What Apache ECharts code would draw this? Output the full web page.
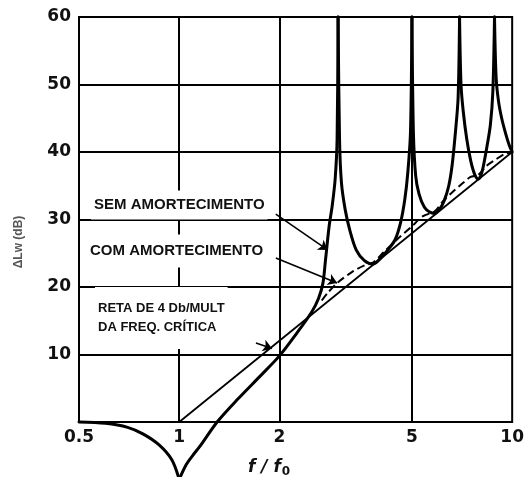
<!DOCTYPE html>
<html>
<head>
<meta charset="utf-8">
<script src="https://cdn.jsdelivr.net/npm/echarts@6/dist/echarts.min.js"></script>
<style>html,body{margin:0;padding:0;background:#fff}#c{width:527px;height:477px}</style>
</head>
<body>
<div id="c"></div>
<script>
// ---- data ----
const xTickValues = [0.5, 1, 2, 5, 10];
const yTickValues = [10, 20, 30, 40, 50, 60];
const gridX = [1, 2, 5];

// "SEM AMORTECIMENTO" (undamped) curve
const semX = [0.5, 0.6, 0.7, 0.78, 0.87, 0.95, 1.0, 1.05, 1.1, 1.15, 1.3, 1.5, 1.75, 2.0, 2.25, 2.5, 2.62, 2.7, 2.75, 2.82, 2.88, 2.94, 2.98, 3.0, 3.03, 3.07, 3.15, 3.25, 3.4, 3.6, 3.82, 4.05, 4.25, 4.45, 4.62, 4.76, 4.86, 4.95, 5.0, 5.05, 5.13, 5.25, 5.45, 5.65, 5.85, 6.05, 6.25, 6.45, 6.6, 6.75, 6.88, 6.95, 7.02, 7.13, 7.3, 7.5, 7.7, 7.9, 8.05, 8.2, 8.4, 8.6, 8.75, 8.85, 8.95, 9.1, 9.3, 9.55, 9.8, 10];
const semY = [0, -0.2, -0.8, -1.8, -3.4, -5.6, -8.5, -6.3, -4.9, -3.7, 0, 3.4, 6.8, 9.8, 13.1, 16.3, 18.3, 20.5, 24.0, 29.0, 32.0, 36.0, 42, 60, 42, 35.5, 31.5, 28.5, 25.5, 23.9, 23.4, 24.4, 25.6, 27.0, 29.5, 33.0, 37.0, 43, 60, 43, 36.5, 33.8, 31.8, 31.1, 30.9, 31.5, 32.8, 35.0, 38.0, 42.8, 48, 60, 50, 46, 42, 38.8, 36.8, 36.0, 36.5, 38.0, 40.8, 44, 49, 60, 51, 47.5, 45, 42.8, 41, 40];
// sharp corners of the undamped curve (dip and resonance peaks)
const semCorners = [1.0, 3.0, 5.0, 6.95, 8.85];

// "COM AMORTECIMENTO" (damped) curve, dashed
const comX = [2.68, 2.8, 3.0, 3.3, 3.6, 3.82, 4.1, 4.5, 5.0, 5.4, 5.85, 6.2, 6.6, 7.0, 7.5, 7.9, 8.4, 9.0, 9.5, 10];
const comY = [18.0, 19.2, 20.7, 22.2, 23.2, 23.6, 25.1, 27.0, 29.0, 30.5, 31.2, 32.7, 34.0, 35.1, 36.3, 36.6, 38.0, 39.0, 39.7, 40];

// straight reference line
const retaX = [1, 10];
const retaY = [0, 40];

const zip = (xs, ys) => xs.map((x, i) => [x, ys[i]]);

// split the undamped curve at its sharp corners so each piece is smoothed separately
function splitAt(xs, ys, corners) {
  const pieces = [];
  let cur = [];
  xs.forEach((x, i) => {
    cur.push([x, ys[i]]);
    if (corners.indexOf(x) >= 0) { pieces.push(cur); cur = [[x, ys[i]]]; }
  });
  if (cur.length > 1) pieces.push(cur);
  return pieces;
}
const semPieces = splitAt(semX, semY, semCorners);

const chart = echarts.init(document.getElementById('c'));
const labelFont = '"DejaVu Sans", sans-serif';
const noteFont = 'bold 15px "Liberation Sans", Arial, sans-serif';

const series = [
  {
    type: 'line', data: zip(retaX, retaY), showSymbol: false, symbol: 'none',
    lineStyle: { color: '#000', width: 1.8 }, clip: false, z: 3,
    markLine: {
      silent: true, symbol: 'none', label: { show: false },
      lineStyle: { color: '#000', width: 2, type: 'solid' },
      data: gridX.map(v => ({ xAxis: v }))
    }
  },
  {
    type: 'line', data: zip(comX, comY), showSymbol: false, symbol: 'none',
    smooth: 0.3,
    lineStyle: { color: '#000', width: 2, type: [8, 4] }, z: 4
  }
];
semPieces.forEach((p, k) => {
  const s = {
    type: 'line', data: p, showSymbol: false, symbol: 'none',
    smooth: 0.3,
    lineStyle: { color: '#000', width: 3, join: 'round', cap: 'round' }, clip: false, z: 5
  };
  if (k === 0) {
    s.markLine = {
      silent: true, symbol: ['none', 'arrow'], symbolSize: 9, label: { show: false },
      lineStyle: { color: '#000', width: 1.6, type: 'solid' },
      data: [
        [{ coord: [1.95, 30.8] }, { coord: [2.79, 25.5] }],
        [{ coord: [1.95, 24.3] }, { coord: [2.98, 20.6] }],
        [{ coord: [1.70, 11.7] }, { coord: [1.90, 10.9] }]
      ]
    };
  }
  series.push(s);
});

chart.setOption({
  animation: false,
  backgroundColor: '#fff',
  grid: { left: 79, right: 12, top: 17, bottom: 55, show: true, borderColor: '#000', borderWidth: 2, backgroundColor: 'transparent' },
  xAxis: {
    type: 'log', logBase: 10, min: 0.5, max: 10,
    axisLine: { show: false },
    axisTick: { show: false },
    splitLine: { show: false },
    axisLabel: {
      customValues: xTickValues,
      formatter: v => String(v),
      color: '#111', fontFamily: labelFont, fontWeight: 'bold', fontSize: 17, margin: 7
    }
  },
  yAxis: {
    type: 'value', min: 0, max: 60, interval: 10,
    axisLine: { show: false },
    axisTick: { show: false },
    splitLine: { show: true, lineStyle: { color: '#000', width: 2 } },
    axisLabel: {
      formatter: v => (yTickValues.indexOf(v) >= 0 ? String(v) : ''),
      color: '#111', fontFamily: labelFont, fontWeight: 'bold', fontSize: 17, margin: 8
    }
  },
  series: series,
  graphic: [
    { type: 'text', z: 100, x: 19, y: 242, rotation: Math.PI / 2, style: { text: 'ΔLw (dB)', font: 'bold 12px "Liberation Sans", Arial, sans-serif', fill: '#555', align: 'center', verticalAlign: 'middle' } },
    { type: 'text', z: 100, x: 91, y: 205, style: { text: 'SEM AMORTECIMENTO', font: noteFont, fill: '#111', verticalAlign: 'middle', backgroundColor: '#fff', padding: [7, 3] } },
    { type: 'text', z: 100, x: 87, y: 251, style: { text: 'COM AMORTECIMENTO', font: noteFont, fill: '#111', verticalAlign: 'middle', backgroundColor: '#fff', padding: [9, 3] } },
    { type: 'text', z: 100, x: 95, y: 318, style: { text: 'RETA DE 4 Db/MULT\nDA FREQ. CRÍTICA', font: 'bold 13px "Liberation Sans", Arial, sans-serif', lineHeight: 19, fill: '#111', verticalAlign: 'middle', backgroundColor: '#fff', padding: [12, 3] } },
    { type: 'text', z: 100, x: 248, y: 468, style: { text: '{a|f / f}{b|0}', verticalAlign: 'middle', rich: { a: { font: 'italic bold 17px "DejaVu Sans", sans-serif', fill: '#111' }, b: { font: 'bold 12px "DejaVu Sans", sans-serif', fill: '#111', padding: [8, 0, 0, 1] } } } }
  ]
});
</script>
</body>
</html>
